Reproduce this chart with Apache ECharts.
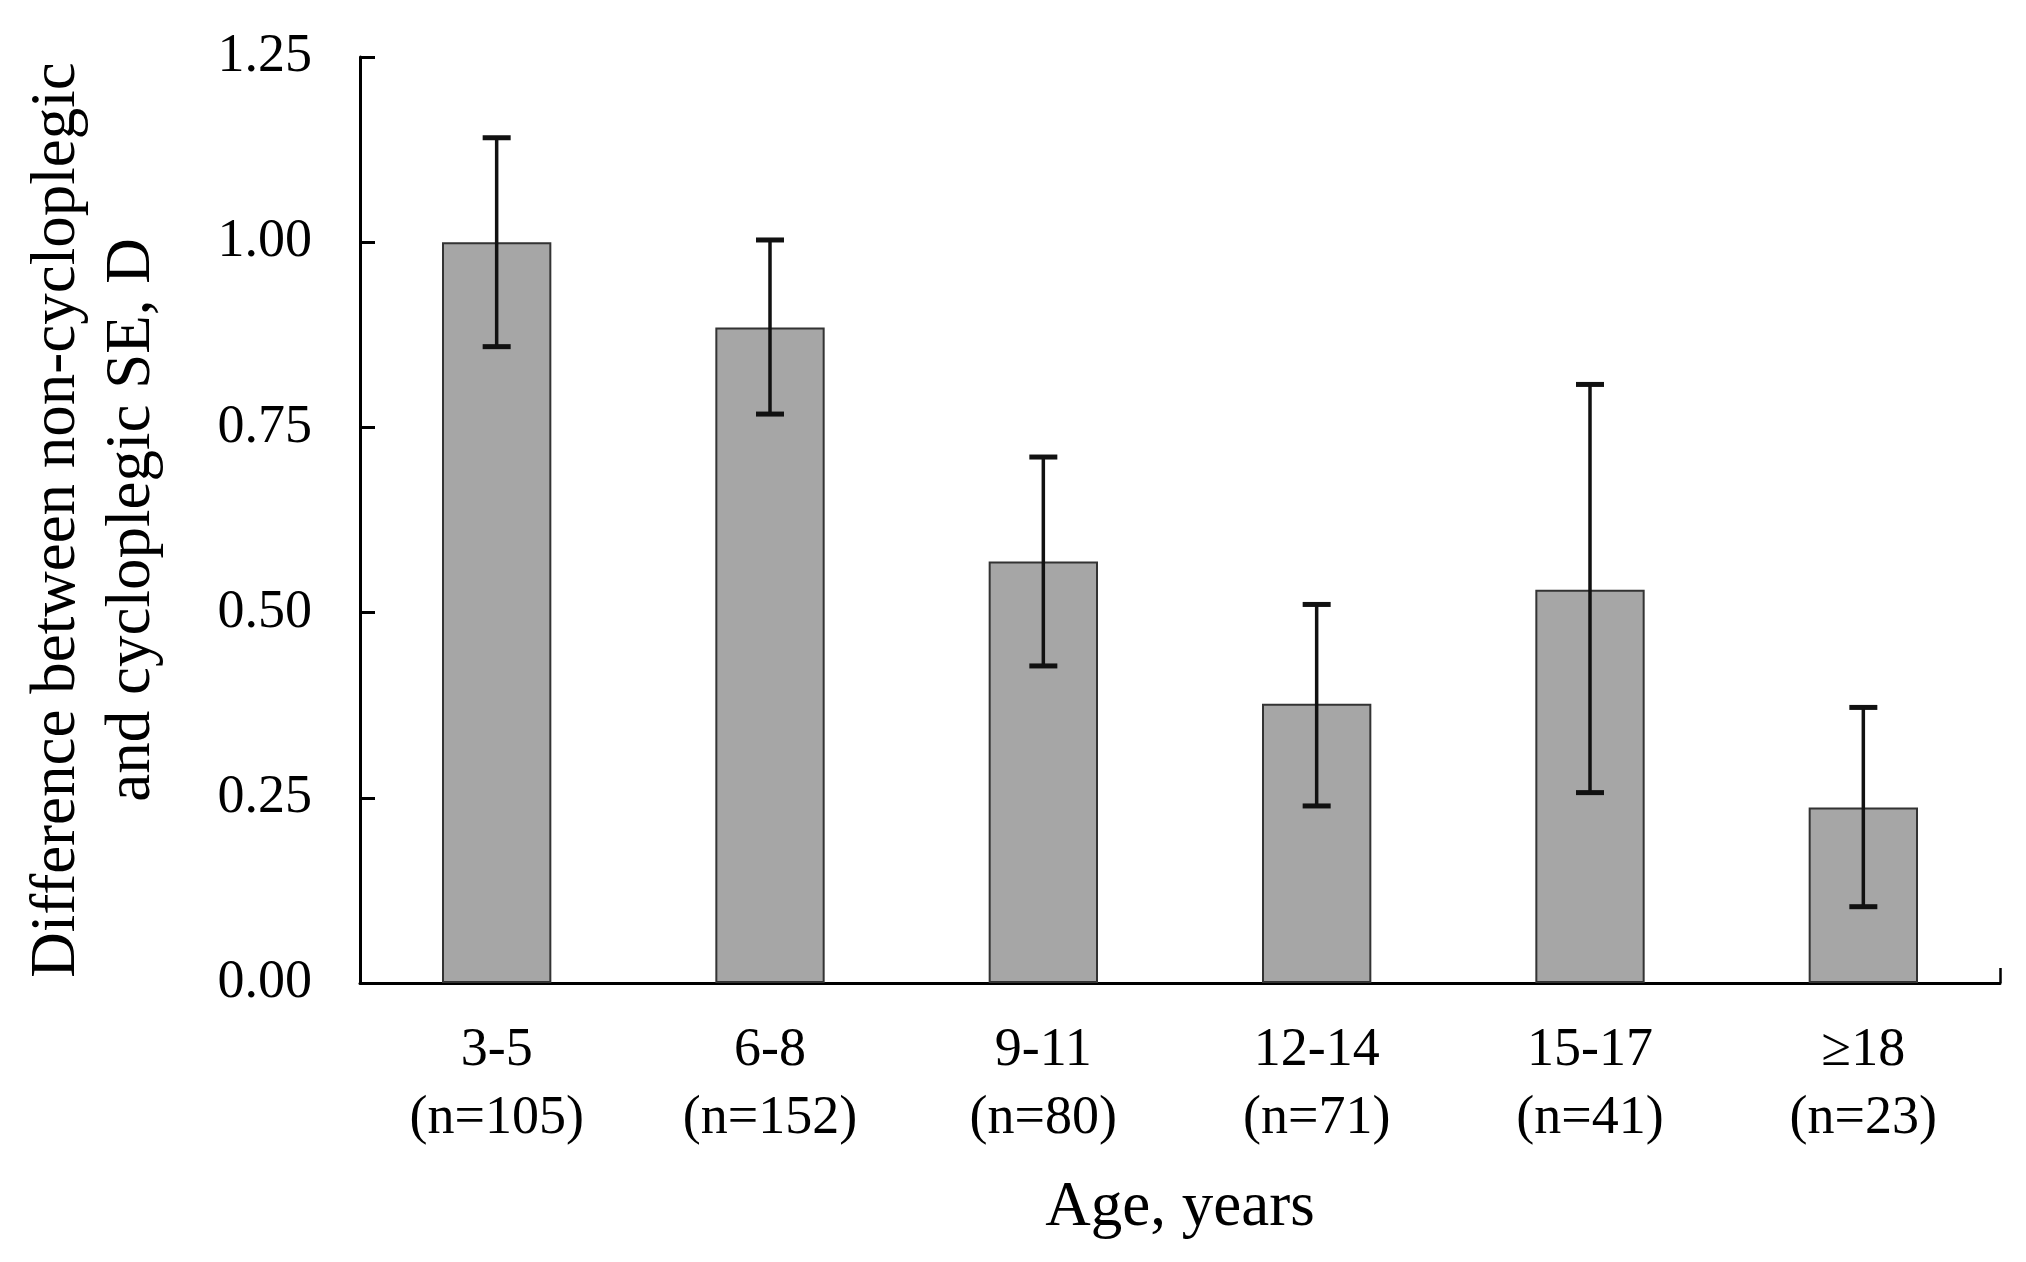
<!DOCTYPE html>
<html>
<head>
<meta charset="utf-8">
<script src="https://cdn.jsdelivr.net/npm/echarts@6/dist/echarts.min.js"></script>
<style>
html,body{margin:0;padding:0;background:#fff;}
#chart{width:2026px;height:1262px;}
</style>
</head>
<body>
<div id="chart"></div>
<script>
const categories = ['3-5', '6-8', '9-11', '12-14', '15-17', '≥18'];
const sampleSizes = [105, 152, 80, 71, 41, 23];
const meanDiff = [1.00, 0.885, 0.569, 0.377, 0.531, 0.237];
const upperCI = [1.141, 1.003, 0.710, 0.511, 0.808, 0.372];
const lowerCI = [0.859, 0.768, 0.428, 0.239, 0.257, 0.103];
const yTicks = [0, 0.25, 0.5, 0.75, 1.0, 1.25];

const FONT = 'Liberation Serif';
const chart = echarts.init(document.getElementById('chart'));

const errData = categories.map((c, i) => [i, lowerCI[i], upperCI[i]]);

chart.setOption({
  backgroundColor: '#ffffff',
  animation: false,
  grid: { left: 360, right: 26, top: 57, bottom: 279, containLabel: false },
  xAxis: [{
    type: 'category',
    data: categories,
    position: 'bottom',
    axisLine: { show: true, lineStyle: { color: '#000', width: 3 } },
    axisTick: { show: true, inside: true, alignWithLabel: true, length: 15, lineStyle: { color: '#000', width: 2.5 } },
    axisLabel: {
      interval: 0,
      margin: 34,
      color: '#000',
      fontFamily: FONT,
      fontSize: 54,
      lineHeight: 68,
      formatter: (v, i) => v + '\n(n=' + sampleSizes[i] + ')'
    },
    name: 'Age, years',
    nameLocation: 'middle',
    nameGap: 194,
    nameTextStyle: { color: '#000', fontFamily: FONT, fontSize: 63 }
  }, {
    type: 'category',
    data: categories,
    position: 'bottom',
    gridIndex: 0,
    axisLine: { show: false },
    axisLabel: { show: false },
    axisTick: { show: true, inside: true, alignWithLabel: false, length: 15,
      interval: (i) => i === categories.length - 1,
      lineStyle: { color: '#000', width: 2.5 } }
  }],
  yAxis: {
    type: 'value',
    min: yTicks[0],
    max: yTicks[yTicks.length - 1],
    interval: 0.25,
    axisLine: { show: true, lineStyle: { color: '#000', width: 3 } },
    axisTick: { show: true, inside: true, length: 15, lineStyle: { color: '#000', width: 3 } },
    splitLine: { show: false },
    axisLabel: {
      margin: 48,
      color: '#000',
      fontFamily: FONT,
      fontSize: 54,
      formatter: (v) => v.toFixed(2)
    },
    name: 'Difference between non-cycloplegic\nand cycloplegic SE, D',
    nameLocation: 'middle',
    nameGap: 190,
    nameTextStyle: { color: '#000', fontFamily: FONT, fontSize: 63, lineHeight: 75 }
  },
  series: [{
    type: 'bar',
    data: meanDiff,
    barWidth: '40%',
    itemStyle: { color: '#a6a6a6', borderColor: '#333', borderWidth: 2 },
    z: 2
  }, {
    type: 'custom',
    data: errData,
    encode: { x: 0, y: [1, 2] },
    z: 5,
    renderItem: function (params, api) {
      const x = api.value(0);
      const lo = api.coord([x, api.value(1)]);
      const hi = api.coord([x, api.value(2)]);
      const hw = 14;
      const st = { stroke: '#111', lineWidth: 3.5 };
      return {
        type: 'group',
        children: [
          { type: 'line', shape: { x1: hi[0], y1: hi[1], x2: lo[0], y2: lo[1] }, style: st },
          { type: 'line', shape: { x1: hi[0] - hw, y1: hi[1], x2: hi[0] + hw, y2: hi[1] }, style: { stroke: '#111', lineWidth: 5 } },
          { type: 'line', shape: { x1: lo[0] - hw, y1: lo[1], x2: lo[0] + hw, y2: lo[1] }, style: { stroke: '#111', lineWidth: 5 } }
        ]
      };
    }
  }]
});
</script>
</body>
</html>
